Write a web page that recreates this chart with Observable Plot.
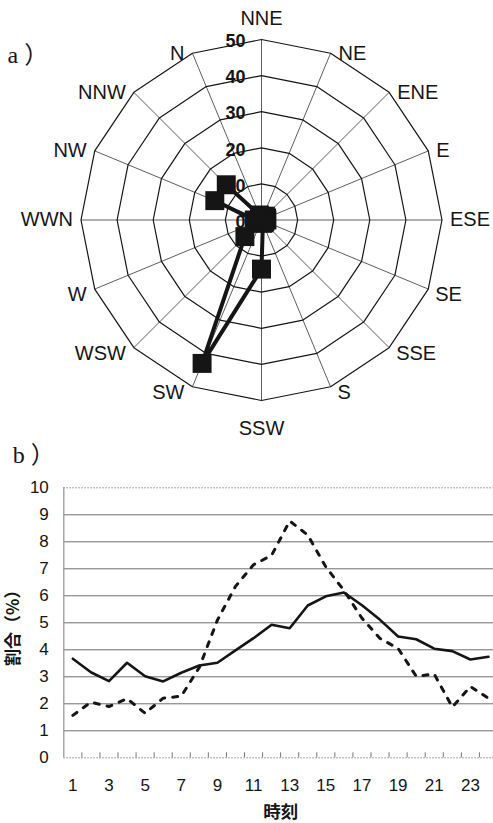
<!DOCTYPE html>
<html>
<head>
<meta charset="utf-8">
<script src="https://cdn.jsdelivr.net/npm/d3@7"></script>
<script src="https://cdn.jsdelivr.net/npm/@observablehq/plot@0.6"></script>
<style>
  html, body { margin: 0; padding: 0; overflow: hidden; background: white; }
  #radar { position: absolute; left: 0; top: 0; }
  #line { position: absolute; left: 0; top: 440px; }
</style>
</head>
<body>
<div id="radar"></div>
<div id="line"></div>
<script>
// ---------- data: a) wind direction radar ----------
const directions = ["NNE","NE","ENE","E","ESE","SE","SSE","S","SSW","SW","WSW","W","WWN","NW","NNW","N"];
const windValues = [1, 1, 1.5, 1.5, 1.5, 1, 1, 1, 13.6, 43, 6.5, 2, 2, 14, 13.8, 1.5];
const radialTicks = [0, 10, 20, 30, 40, 50];
const radialRings = [10, 20, 30, 40, 50];

// ---------- data: b) hourly share ----------
const hours = [1,2,3,4,5,6,7,8,9,10,11,12,13,14,15,16,17,18,19,20,21,22,23,24];
const solidSeries = [3.67,3.17,2.84,3.52,3.02,2.83,3.15,3.42,3.52,3.98,4.43,4.93,4.80,5.64,5.98,6.12,5.65,5.11,4.49,4.39,4.04,3.95,3.64,3.74];
const dashedSeries = [1.57,2.06,1.90,2.19,1.65,2.21,2.28,3.35,5.10,6.35,7.15,7.50,8.77,8.25,7.07,6.20,5.17,4.42,4.05,3.02,3.10,1.88,2.64,2.20];
const xTickLabels = [1,3,5,7,9,11,13,15,17,19,21,23];
const yTicks = [0,1,2,3,4,5,6,7,8,9,10];

// ---------- radar ----------
const ang = i => i * Math.PI / 8;
const px = (i, v) => v * Math.sin(ang(i));
const py = (i, v) => v * Math.cos(ang(i));
const maxR = radialTicks[radialTicks.length - 1];

const dirData = directions.map((d, i) => ({dir: d, i}));
const windData = directions.map((d, i) => ({dir: d, i, v: windValues[i]}));
const windClosed = [...windData, windData[0]];
const ringData = radialRings.flatMap(t => directions.concat([directions[0]]).map((d, k) => ({t, i: k % directions.length})));

const ink = "#151515";
const labelFont = "'Liberation Sans', Arial, sans-serif";

const dirText = (filter, opts) => Plot.text(dirData, {
  filter,
  x: d => px(d.i, maxR), y: d => py(d.i, maxR), text: "dir",
  fontSize: 20, fill: ink, ...opts
});

const radar = Plot.plot({
  width: 493, height: 440, margin: 0,
  x: {domain: [-maxR, maxR], range: [261 - 180.5, 261 + 180.5], axis: null},
  y: {domain: [-maxR, maxR], range: [219.5 + 180.5, 219.5 - 180.5], axis: null},
  style: {fontFamily: labelFont, background: "white", overflow: "visible"},
  marks: [
    Plot.link(dirData, {x1: () => 0, y1: () => 0, x2: d => px(d.i, maxR), y2: d => py(d.i, maxR), stroke: "#333", strokeWidth: 0.8}),
    Plot.line(ringData, {x: d => px(d.i, d.t), y: d => py(d.i, d.t), z: "t", stroke: ink, strokeWidth: 1.2}),
    Plot.text(radialTicks, {x: () => 0, y: d => d, text: d => String(d), textAnchor: "end", dx: -16, dy: 2, fontWeight: "bold", fontSize: 18, fill: ink}),
    dirText(d => d.i === 0, {dy: -21}),
    dirText(d => d.i === 8, {dy: 28}),
    dirText(d => d.i >= 1 && d.i <= 4, {textAnchor: "start", dx: 8, dy: 0}),
    dirText(d => d.i >= 5 && d.i <= 7, {textAnchor: "start", dx: 7, dy: 6}),
    dirText(d => d.i >= 9 && d.i <= 11, {textAnchor: "end", dx: -8, dy: 6}),
    dirText(d => d.i >= 12 && d.i <= 15, {textAnchor: "end", dx: -8, dy: 0}),
    Plot.line(windClosed, {x: d => px(d.i, d.v), y: d => py(d.i, d.v), stroke: ink, strokeWidth: 4, strokeLinejoin: "round"}),
    Plot.dot(windData, {x: d => px(d.i, d.v), y: d => py(d.i, d.v), symbol: "square", r: 10.7, fill: ink, stroke: null}),
    Plot.text(["a ）"], {frameAnchor: "top-left", dx: 7, dy: 62, lineAnchor: "bottom", textAnchor: "start", fontSize: 24, fontFamily: "'Liberation Serif', 'Noto Sans CJK JP', serif", fill: ink})
  ]
});
document.getElementById("radar").appendChild(radar);

// ---------- line chart ----------
const lineData = hours.map((h, k) => ({h, solid: solidSeries[k], dashed: dashedSeries[k]}));
const bandEdges = hours.slice(1).map(h => h - 0.5);

const lineChart = Plot.plot({
  width: 497, height: 383,
  marginLeft: 63.3, marginRight: 0, marginTop: 47.3, marginBottom: 65.7,
  x: {domain: [hours[0] - 0.5, hours[hours.length - 1] + 0.5]},
  y: {domain: [yTicks[0], yTicks[yTicks.length - 1]]},
  style: {fontFamily: labelFont, fontSize: "17px", background: "white", maxWidth: "none", overflow: "visible"},
  marks: [
    Plot.ruleY(yTicks.slice(1, -1), {stroke: "#6e6e6e", strokeWidth: 1}),
    Plot.ruleY([yTicks[0], yTicks[yTicks.length - 1]], {stroke: "#8a8a8a", strokeWidth: 1, strokeDasharray: "1.5,1.5"}),
    Plot.ruleX([hours[0] - 0.5], {stroke: "#999", strokeWidth: 1.3}),
    Plot.tickX(bandEdges, {x: d => d, insetTop: 265, stroke: "#777", strokeWidth: 1}),
    Plot.line(lineData, {x: "h", y: "dashed", stroke: ink, strokeWidth: 3, strokeDasharray: "5,8"}),
    Plot.line(lineData, {x: "h", y: "solid", stroke: ink, strokeWidth: 2.6, strokeLinejoin: "round"}),
    Plot.axisY(yTicks, {tickSize: 0, tickPadding: 15, label: null, fontSize: 17, fill: ink}),
    Plot.axisX(xTickLabels, {tickSize: 0, tickPadding: 21, label: null, fontSize: 17, fill: ink}),
    Plot.text(["割合（%）"], {frameAnchor: "left", dx: -50, dy: 1, rotate: -90, textAnchor: "middle", lineAnchor: "middle", fontSize: 17, fontFamily: "'Noto Sans CJK JP', sans-serif", fontWeight: "bold", fill: ink}),
    Plot.text(["時刻"], {frameAnchor: "bottom", dy: 54.2, textAnchor: "middle", lineAnchor: "middle", fontSize: 17.5, fontFamily: "'Noto Sans CJK JP', sans-serif", fontWeight: "bold", fill: ink}),
    Plot.text(["b ）"], {frameAnchor: "top-left", dx: -51, dy: -25, lineAnchor: "bottom", textAnchor: "start", fontSize: 24, fontFamily: "'Liberation Serif', 'Noto Sans CJK JP', serif", fill: ink})
  ]
});
document.getElementById("line").appendChild(lineChart);
</script>
</body>
</html>
